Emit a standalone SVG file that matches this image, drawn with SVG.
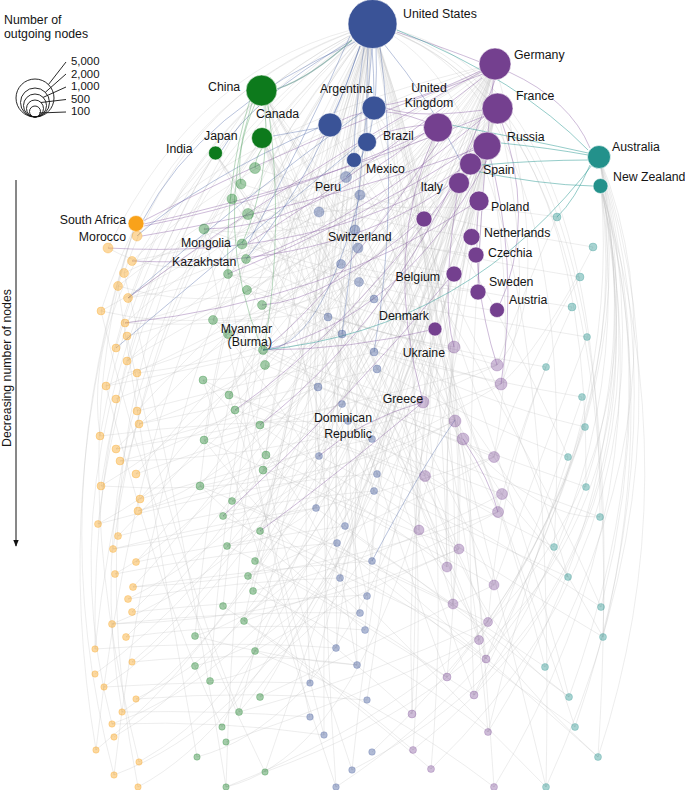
<svg xmlns="http://www.w3.org/2000/svg" width="685" height="790" viewBox="0 0 685 790">
<style>
.t{font-family:"Liberation Sans",Arial,sans-serif;font-size:12.3px;fill:#141414}
.ls{font-family:"Liberation Sans",Arial,sans-serif;font-size:11.4px;fill:#141414}
.e{fill:none;stroke:#bcbcbc;stroke-opacity:.3;stroke-width:.9}
.cp{fill:none;stroke:#7d4e9c;stroke-opacity:.38;stroke-width:1}
.cb{fill:none;stroke:#4a63a5;stroke-opacity:.38;stroke-width:1}
.cg{fill:none;stroke:#4a9a5a;stroke-opacity:.38;stroke-width:1}
.ct{fill:none;stroke:#2b9a93;stroke-opacity:.5;stroke-width:1}
.tg{fill:none;stroke:#7fa9a3;stroke-opacity:.8;stroke-width:1.2}
.B{fill:#3a5397;stroke:#fff;stroke-width:.6}
.P{fill:#74408f;stroke:#fff;stroke-width:.6}
.G{fill:#0d7a1c;stroke:#fff;stroke-width:.6}
.O{fill:#f9a21a;stroke:#fff;stroke-width:.6}
.T{fill:#23918b;stroke:#fff;stroke-width:.6}
.fb{fill:#3a5397;fill-opacity:.4;stroke:#3a5397;stroke-opacity:.25}
.fp{fill:#74408f;fill-opacity:.35;stroke:#74408f;stroke-opacity:.25}
.fg{fill:#0d7a1c;fill-opacity:.38;stroke:#0d7a1c;stroke-opacity:.25}
.fo{fill:#f9a21a;fill-opacity:.42;stroke:#f9a21a;stroke-opacity:.3}
.ft{fill:#23918b;fill-opacity:.4;stroke:#23918b;stroke-opacity:.25}
.lg{fill:none;stroke:#111;stroke-width:.9}
</style>
<defs>
<marker id="ah" viewBox="0 0 10 10" refX="9" refY="5" markerWidth="7" markerHeight="7" orient="auto"><path d="M0 1 L10 5 L0 9 z" fill="#111"/></marker>
</defs>

<g id="connectors">
<g id="grey-edges">
<path class="e" d="M372 25 Q200 60 108 248"/><path class="e" d="M372 25 Q190 80 124 273"/><path class="e" d="M372 25 Q170 90 101 311"/><path class="e" d="M372 25 Q180 110 116 348"/><path class="e" d="M372 25 Q160 120 106 386"/><path class="e" d="M372 25 Q150 140 100 436"/><path class="e" d="M372 25 Q150 160 101 486"/><path class="e" d="M372 25 Q140 180 98 524"/><path class="e" d="M372 25 Q160 200 113 549"/><path class="e" d="M372 25 Q140 230 95 649"/><path class="e" d="M372 25 Q150 260 96 750"/><path class="e" d="M372 25 Q170 280 114 775"/>
<path class="e" d="M372 25 Q260 120 204 229"/><path class="e" d="M372 25 Q250 150 213 320"/><path class="e" d="M372 25 Q240 180 204 440"/><path class="e" d="M372 25 Q230 200 200 486"/><path class="e" d="M372 25 Q230 250 195 636"/><path class="e" d="M372 25 Q240 260 210 681"/><path class="e" d="M372 25 Q240 280 226 787"/><path class="e" d="M372 25 Q260 230 223 606"/>
<path class="e" d="M372 25 Q300 200 319 456"/><path class="e" d="M372 25 Q290 240 310 683"/><path class="e" d="M372 25 Q300 260 336 787"/><path class="e" d="M372 25 Q310 220 316 508"/><path class="e" d="M372 25 Q330 200 337 648"/>
<path class="e" d="M372 25 Q430 250 412 714"/><path class="e" d="M372 25 Q440 230 447 567"/><path class="e" d="M372 25 Q460 260 494 787"/><path class="e" d="M372 25 Q410 200 419 530"/>
<path class="e" d="M372 25 Q600 60 600 517"/><path class="e" d="M372 25 Q620 80 603 637"/><path class="e" d="M372 25 Q640 100 598 757"/><path class="e" d="M372 25 Q580 80 554 547"/><path class="e" d="M372 25 Q560 100 546 787"/><path class="e" d="M372 25 Q590 90 586 487"/>
<path class="e" d="M495 64 Q250 120 137 236"/><path class="e" d="M495 64 Q260 140 132 261"/><path class="e" d="M495 64 Q250 180 118 286"/><path class="e" d="M495 64 Q260 200 128 298"/><path class="e" d="M495 64 Q240 220 125 323"/><path class="e" d="M495 64 Q250 250 127 361"/><path class="e" d="M495 64 Q260 280 137 411"/><path class="e" d="M495 64 Q260 300 116 449"/><path class="e" d="M495 64 Q270 320 136 474"/><path class="e" d="M495 64 Q260 350 140 499"/><path class="e" d="M495 64 Q270 380 118 536"/><path class="e" d="M495 64 Q280 400 136 562"/><path class="e" d="M495 64 Q280 430 133 587"/><path class="e" d="M495 64 Q290 460 132 612"/><path class="e" d="M495 64 Q290 480 126 637"/><path class="e" d="M495 64 Q300 520 132 662"/><path class="e" d="M495 64 Q300 560 104 687"/><path class="e" d="M495 64 Q310 590 122 712"/><path class="e" d="M495 64 Q320 620 114 737"/><path class="e" d="M495 64 Q330 660 139 762"/><path class="e" d="M495 64 Q340 680 138 787"/>
<path class="e" d="M497 108 Q280 200 124 273"/><path class="e" d="M497 108 Q280 250 128 298"/><path class="e" d="M497 108 Q290 300 127 336"/><path class="e" d="M497 108 Q300 330 127 373"/><path class="e" d="M497 108 Q300 380 139 424"/><path class="e" d="M497 108 Q310 420 120 461"/><path class="e" d="M497 108 Q320 450 138 511"/><path class="e" d="M497 108 Q330 500 128 599"/><path class="e" d="M497 108 Q340 540 112 624"/><path class="e" d="M497 108 Q350 600 136 699"/><path class="e" d="M497 108 Q360 640 112 724"/><path class="e" d="M497 108 Q370 680 114 775"/>
<path class="e" d="M438 127 Q260 220 101 311"/><path class="e" d="M438 127 Q270 300 125 323"/><path class="e" d="M438 127 Q280 340 116 399"/><path class="e" d="M438 127 Q280 380 101 486"/><path class="e" d="M438 127 Q290 420 98 524"/><path class="e" d="M438 127 Q300 470 115 574"/><path class="e" d="M438 127 Q310 520 95 674"/><path class="e" d="M438 127 Q320 570 96 750"/>
<path class="e" d="M487 145 Q330 250 204 229"/><path class="e" d="M487 145 Q320 300 228 274"/><path class="e" d="M487 145 Q330 330 213 320"/><path class="e" d="M487 145 Q340 380 203 380"/><path class="e" d="M487 145 Q350 420 204 440"/><path class="e" d="M487 145 Q360 460 200 486"/><path class="e" d="M487 145 Q370 500 223 516"/><path class="e" d="M487 145 Q380 540 227 546"/><path class="e" d="M487 145 Q390 580 195 636"/><path class="e" d="M487 145 Q400 620 195 666"/><path class="e" d="M487 145 Q400 660 209 681"/><path class="e" d="M487 145 Q410 700 197 757"/><path class="e" d="M487 145 Q420 740 226 787"/>
<path class="e" d="M470 164 Q350 280 229 395"/><path class="e" d="M470 164 Q360 340 235 410"/><path class="e" d="M470 164 Q370 380 232 501"/><path class="e" d="M459 182 Q350 320 260 425"/><path class="e" d="M459 182 Q360 380 255 561"/><path class="e" d="M459 182 Q370 440 248 576"/><path class="e" d="M459 182 Q380 480 244 621"/><path class="e" d="M470 164 Q380 500 260 697"/><path class="e" d="M459 182 Q390 540 239 712"/><path class="e" d="M479 200 Q390 400 265 772"/><path class="e" d="M479 200 Q380 360 222 727"/>
<path class="e" d="M261 90 Q420 300 455 420"/><path class="e" d="M261 90 Q400 300 463 439"/><path class="e" d="M261 90 Q420 350 494 457"/><path class="e" d="M261 90 Q380 380 425 476"/><path class="e" d="M261 90 Q440 400 502 494"/><path class="e" d="M262 138 Q420 350 498 512"/><path class="e" d="M262 138 Q400 400 459 549"/><path class="e" d="M262 138 Q400 420 447 567"/><path class="e" d="M262 138 Q440 460 494 585"/><path class="e" d="M262 138 Q420 480 453 604"/><path class="e" d="M215 153 Q400 400 488 622"/><path class="e" d="M215 153 Q400 430 479 640"/><path class="e" d="M215 153 Q430 470 486 659"/><path class="e" d="M261 90 Q380 500 447 677"/><path class="e" d="M262 138 Q420 540 474 695"/>
<path class="e" d="M329 125 Q450 300 488 732"/><path class="e" d="M329 125 Q440 400 413 750"/><path class="e" d="M373 107 Q460 450 431 769"/><path class="e" d="M373 107 Q500 300 568 457"/><path class="e" d="M367 142 Q520 400 568 577"/><path class="e" d="M353 160 Q520 420 601 607"/><path class="e" d="M329 125 Q480 400 545 667"/><path class="e" d="M373 107 Q520 500 569 697"/><path class="e" d="M367 142 Q500 500 575 727"/>
<path class="e" d="M599 156 Q700 450 546 787"/><path class="e" d="M601 186 Q690 480 598 757"/><path class="e" d="M599 156 Q680 420 575 727"/><path class="e" d="M601 186 Q670 420 569 697"/><path class="e" d="M599 156 Q690 380 545 667"/><path class="e" d="M601 186 Q660 400 603 637"/><path class="e" d="M599 156 Q660 380 601 607"/><path class="e" d="M601 186 Q670 500 494 787"/><path class="e" d="M599 156 Q690 520 431 769"/><path class="e" d="M601 186 Q680 540 413 750"/><path class="e" d="M599 156 Q660 460 488 732"/><path class="e" d="M601 186 Q640 460 474 695"/><path class="e" d="M599 156 Q650 420 447 677"/><path class="e" d="M601 186 Q620 420 486 659"/><path class="e" d="M599 156 Q640 400 479 640"/><path class="e" d="M601 186 Q640 500 372 752"/><path class="e" d="M599 156 Q680 560 336 787"/><path class="e" d="M601 186 Q680 600 352 770"/><path class="e" d="M599 156 Q700 600 226 787"/><path class="e" d="M601 186 Q690 620 265 772"/>
<path class="e" d="M136 223 Q40 500 114 775"/><path class="e" d="M136 223 Q50 480 96 750"/><path class="e" d="M136 223 Q60 450 139 762"/><path class="e" d="M261 90 Q60 400 138 787"/><path class="e" d="M215 153 Q40 450 112 724"/><path class="e" d="M262 138 Q70 420 122 712"/><path class="e" d="M261 90 Q90 300 95 649"/><path class="e" d="M215 153 Q80 300 100 436"/>
<path class="e" d="M108 248 Q200 300 319 212"/><path class="e" d="M132 261 Q250 240 360 195"/><path class="e" d="M118 286 Q230 320 341 264"/><path class="e" d="M101 311 Q220 340 359 282"/><path class="e" d="M125 323 Q250 330 374 299"/><path class="e" d="M128 298 Q250 280 355 230"/><path class="e" d="M137 373 Q250 360 328 317"/><path class="e" d="M106 386 Q240 360 342 334"/><path class="e" d="M137 411 Q260 380 374 352"/><path class="e" d="M139 424 Q260 400 377 369"/><path class="e" d="M116 449 Q240 420 318 387"/><path class="e" d="M136 474 Q260 430 342 404"/><path class="e" d="M100 436 Q220 420 348 421"/><path class="e" d="M140 499 Q270 460 372 439"/><path class="e" d="M138 511 Q250 480 319 456"/><path class="e" d="M98 524 Q260 480 377 474"/><path class="e" d="M118 536 Q260 500 374 491"/><path class="e" d="M113 549 Q230 520 316 508"/><path class="e" d="M136 562 Q240 540 345 526"/><path class="e" d="M115 574 Q240 550 337 543"/><path class="e" d="M133 587 Q250 570 372 561"/><path class="e" d="M128 599 Q240 580 340 578"/><path class="e" d="M132 612 Q250 600 367 595"/><path class="e" d="M112 624 Q240 610 360 613"/><path class="e" d="M126 637 Q250 620 365 630"/><path class="e" d="M95 649 Q230 640 336 648"/><path class="e" d="M132 662 Q250 650 357 665"/><path class="e" d="M104 687 Q220 680 310 683"/><path class="e" d="M136 699 Q250 690 367 700"/><path class="e" d="M122 712 Q220 710 310 717"/><path class="e" d="M112 724 Q220 720 324 735"/>
<path class="e" d="M255 168 Q350 200 424 218"/><path class="e" d="M241 184 Q350 220 471 237"/><path class="e" d="M232 199 Q350 240 476 255"/><path class="e" d="M248 214 Q350 260 454 273"/><path class="e" d="M204 229 Q340 280 478 292"/><path class="e" d="M242 244 Q360 290 497 311"/><path class="e" d="M246 259 Q340 310 435 329"/><path class="e" d="M228 274 Q340 330 454 347"/><path class="e" d="M247 290 Q370 330 497 365"/><path class="e" d="M262 305 Q380 350 501 384"/><path class="e" d="M213 320 Q320 380 423 402"/><path class="e" d="M228 334 Q340 400 455 420"/><path class="e" d="M263 350 Q360 400 463 439"/><path class="e" d="M265 365 Q380 410 494 457"/><path class="e" d="M203 380 Q320 440 425 476"/><path class="e" d="M229 395 Q360 440 502 494"/><path class="e" d="M235 410 Q360 450 498 512"/><path class="e" d="M260 425 Q340 480 419 530"/><path class="e" d="M204 440 Q330 500 459 549"/><path class="e" d="M266 455 Q360 500 447 567"/><path class="e" d="M263 470 Q380 520 494 585"/><path class="e" d="M200 486 Q330 540 453 604"/><path class="e" d="M232 501 Q360 560 488 622"/><path class="e" d="M223 516 Q350 580 479 640"/><path class="e" d="M260 531 Q380 580 486 659"/><path class="e" d="M227 546 Q340 600 447 677"/><path class="e" d="M255 561 Q360 620 474 695"/><path class="e" d="M248 576 Q330 640 412 714"/><path class="e" d="M253 591 Q380 650 488 732"/><path class="e" d="M223 606 Q320 670 413 750"/><path class="e" d="M244 621 Q340 690 431 769"/><path class="e" d="M255 651 Q380 700 494 787"/>
<path class="e" d="M319 212 Q450 200 557 217"/><path class="e" d="M360 195 Q480 230 593 247"/><path class="e" d="M355 230 Q470 260 580 277"/><path class="e" d="M341 264 Q460 290 572 307"/><path class="e" d="M374 299 Q480 320 587 337"/><path class="e" d="M328 317 Q440 350 546 367"/><path class="e" d="M374 352 Q480 380 582 397"/><path class="e" d="M342 334 Q470 400 585 427"/><path class="e" d="M377 369 Q470 420 568 457"/><path class="e" d="M318 387 Q450 440 586 487"/><path class="e" d="M348 421 Q470 470 600 517"/><path class="e" d="M372 439 Q460 500 554 547"/><path class="e" d="M319 456 Q440 520 568 577"/><path class="e" d="M377 474 Q500 540 601 607"/><path class="e" d="M374 491 Q490 570 603 637"/><path class="e" d="M316 508 Q430 590 545 667"/><path class="e" d="M345 526 Q460 610 569 697"/><path class="e" d="M337 543 Q450 640 575 727"/><path class="e" d="M372 561 Q490 660 598 757"/><path class="e" d="M340 578 Q440 680 546 787"/>
<path class="e" d="M203 380 Q260 560 336 787"/><path class="e" d="M228 274 Q260 500 352 770"/><path class="e" d="M204 229 Q250 450 310 717"/><path class="e" d="M229 395 Q280 560 324 735"/><path class="e" d="M455 420 Q500 600 546 787"/><path class="e" d="M425 476 Q480 640 569 697"/><path class="e" d="M419 530 Q480 650 598 757"/><path class="e" d="M494 457 Q560 560 603 637"/><path class="e" d="M502 494 Q560 560 568 577"/><path class="e" d="M463 439 Q540 520 600 517"/>
<path class="e" d="M124 273 Q180 500 226 787"/><path class="e" d="M101 311 Q160 560 265 772"/><path class="e" d="M118 286 Q150 500 197 757"/><path class="e" d="M127 336 Q170 540 239 712"/><path class="e" d="M106 386 Q160 600 222 727"/>
<path class="e" d="M495 64 Q400 200 359 282"/><path class="e" d="M495 64 Q420 250 374 352"/><path class="e" d="M497 108 Q400 250 318 387"/><path class="e" d="M438 127 Q380 300 342 404"/><path class="e" d="M487 145 Q400 300 372 439"/><path class="e" d="M495 64 Q560 300 497 365"/><path class="e" d="M497 108 Q540 300 501 384"/><path class="e" d="M487 145 Q520 320 494 457"/>
<path class="e" d="M372 25 Q330 120 319 212"/><path class="e" d="M372 25 Q340 150 341 264"/><path class="e" d="M372 25 Q350 200 328 317"/><path class="e" d="M372 25 Q360 250 318 387"/><path class="e" d="M372 25 Q350 300 345 526"/><path class="e" d="M372 25 Q330 350 360 613"/><path class="e" d="M372 25 Q350 400 357 665"/><path class="e" d="M372 25 Q320 420 324 735"/><path class="e" d="M372 25 Q300 200 262 305"/><path class="e" d="M372 25 Q300 250 247 290"/><path class="e" d="M372 25 Q290 300 229 395"/><path class="e" d="M372 25 Q280 320 266 455"/><path class="e" d="M372 25 Q300 380 255 561"/><path class="e" d="M372 25 Q300 420 253 591"/><path class="e" d="M372 25 Q280 460 244 621"/><path class="e" d="M372 25 Q300 480 239 712"/>
<path class="e" d="M372 25 Q420 200 455 420"/><path class="e" d="M372 25 Q450 250 425 476"/><path class="e" d="M372 25 Q470 300 459 549"/><path class="e" d="M372 25 Q480 350 453 604"/><path class="e" d="M372 25 Q460 380 486 659"/><path class="e" d="M372 25 Q480 400 447 677"/>
<path class="e" d="M495 64 Q420 300 419 530"/><path class="e" d="M495 64 Q440 350 447 567"/><path class="e" d="M497 108 Q430 350 453 604"/><path class="e" d="M495 64 Q460 400 474 695"/><path class="e" d="M497 108 Q400 400 412 714"/><path class="e" d="M495 64 Q380 400 372 561"/><path class="e" d="M497 108 Q380 450 340 578"/><path class="e" d="M438 127 Q380 400 365 630"/><path class="e" d="M438 127 Q360 450 336 648"/><path class="e" d="M487 145 Q400 450 367 700"/><path class="e" d="M470 164 Q380 480 352 770"/><path class="e" d="M459 182 Q360 500 310 683"/>
<path class="e" d="M329 125 Q300 250 263 470"/><path class="e" d="M329 125 Q320 300 260 531"/><path class="e" d="M373 107 Q350 300 316 508"/><path class="e" d="M367 142 Q330 350 337 543"/><path class="e" d="M353 160 Q320 300 319 456"/><path class="e" d="M329 125 Q280 200 213 320"/>
<path class="e" d="M261 90 Q330 200 374 299"/><path class="e" d="M261 90 Q320 250 377 369"/><path class="e" d="M262 138 Q320 300 374 491"/><path class="e" d="M262 138 Q330 350 372 561"/><path class="e" d="M215 153 Q300 300 367 596"/><path class="e" d="M261 90 Q300 350 357 665"/>
<path class="e" d="M497 365 Q380 420 263 470"/><path class="e" d="M501 384 Q380 460 232 501"/><path class="e" d="M455 420 Q350 480 227 546"/><path class="e" d="M494 457 Q380 520 248 576"/><path class="e" d="M502 494 Q380 560 253 591"/><path class="e" d="M498 512 Q370 580 244 621"/><path class="e" d="M459 549 Q340 600 255 651"/><path class="e" d="M494 585 Q380 640 260 697"/><path class="e" d="M488 622 Q360 680 239 712"/><path class="e" d="M479 640 Q350 700 226 742"/>
<path class="e" d="M497 365 Q300 420 116 449"/><path class="e" d="M501 384 Q300 460 120 461"/><path class="e" d="M455 421 Q300 500 101 486"/><path class="e" d="M494 457 Q300 520 113 549"/><path class="e" d="M498 512 Q300 580 133 587"/><path class="e" d="M459 549 Q300 620 112 624"/>
<path class="e" d="M355 230 Q230 300 127 361"/><path class="e" d="M341 264 Q230 330 106 386"/>
<path class="e" d="M557 217 Q520 300 497 365"/><path class="e" d="M593 247 Q540 350 501 384"/><path class="e" d="M580 277 Q520 380 494 457"/><path class="e" d="M572 307 Q520 420 498 512"/><path class="e" d="M587 337 Q540 460 494 585"/><path class="e" d="M546 367 Q500 480 488 622"/><path class="e" d="M582 397 Q540 520 486 659"/><path class="e" d="M585 427 Q540 560 474 695"/><path class="e" d="M568 457 Q520 600 488 732"/>
<path class="e" d="M204 229 Q300 350 374 491"/><path class="e" d="M232 199 Q300 300 377 474"/><path class="e" d="M213 320 Q300 420 345 526"/><path class="e" d="M203 380 Q300 480 340 578"/><path class="e" d="M204 440 Q280 540 360 613"/><path class="e" d="M200 486 Q280 560 365 630"/><path class="e" d="M195 636 Q280 660 357 665"/>
</g>
<g id="colored-edges">
<path class="cp" d="M397 32 Q450 50 480 62"/><path class="cp" d="M509 72 Q570 100 590 148"/><path class="cp" d="M483 74 Q300 140 143 221"/><path class="cp" d="M485 116 Q300 190 144 224"/><path class="cp" d="M425 133 Q280 200 144 226"/><path class="cp" d="M474 150 Q300 210 142 236"/><path class="cp" d="M482 78 Q350 180 248 243"/><path class="cp" d="M484 117 Q360 220 251 259"/><path class="cp" d="M473 148 Q360 220 228 274"/><path class="cp" d="M424 133 Q300 230 204 229"/><path class="cp" d="M460 170 Q320 260 108 248"/><path class="cp" d="M448 186 Q330 270 132 261"/><path class="cp" d="M470 206 Q330 300 125 323"/><path class="cp" d="M440 140 Q330 300 263 350"/><path class="cp" d="M487 160 Q400 320 263 350"/><path class="cp" d="M495 80 Q420 300 260 425"/><path class="cp" d="M423 402 Q360 420 319 456"/><path class="cp" d="M423 402 Q330 480 260 531"/><path class="cp" d="M463 439 Q490 480 498 512"/><path class="cp" d="M482 70 Q420 100 385 105"/><path class="cp" d="M424 125 Q380 130 376 140"/><path class="cp" d="M438 127 Q380 100 342 120"/><path class="cp" d="M497 108 Q420 120 386 108"/><path class="cp" d="M479 200 Q470 280 497 365"/><path class="cp" d="M459 182 Q440 300 454 347"/><path class="cp" d="M487 145 Q520 260 501 384"/><path class="cp" d="M495 64 Q480 200 478 292"/><path class="cp" d="M497 108 Q540 220 497 311"/><path class="cp" d="M470 164 Q350 330 235 410"/><path class="cp" d="M454 273 Q350 400 223 516"/><path class="cp" d="M435 329 Q350 350 263 350"/><path class="cp" d="M424 218 Q330 300 262 305"/><path class="cp" d="M495 64 Q300 170 128 298"/><path class="cp" d="M438 127 Q380 250 423 402"/>
<path class="cb" d="M360 46 Q345 90 334 113"/><path class="cb" d="M372 48 Q374 75 374 96"/><path class="cb" d="M368 48 Q366 100 367 133"/><path class="cb" d="M364 47 Q355 110 354 153"/><path class="cb" d="M355 42 Q200 110 143 220"/><path class="cb" d="M352 40 Q250 100 222 150"/><path class="cb" d="M318 128 Q295 132 273 136"/><path class="cb" d="M350 36 Q300 150 248 243"/><path class="cb" d="M360 46 Q320 170 246 259"/><path class="cb" d="M318 128 Q200 180 137 236"/><path class="cb" d="M362 112 Q240 200 128 298"/><path class="cb" d="M357 146 Q220 260 116 348"/><path class="cb" d="M372 48 Q360 200 342 334"/><path class="cb" d="M380 46 Q400 200 374 352"/><path class="cb" d="M360 195 Q320 350 263 350"/><path class="cb" d="M372 561 Q420 470 455 420"/><path class="cb" d="M376 46 Q380 150 346 177"/><path class="cb" d="M384 44 Q430 100 460 160"/>
<path class="cg" d="M252 103 Q212 230 262 349"/><path class="cg" d="M268 105 Q285 230 264 349"/><path class="cg" d="M255 104 Q235 150 241 184"/><path class="cg" d="M262 148 Q255 160 255 168"/><path class="cg" d="M250 100 Q225 180 228 274"/><path class="cg" d="M265 106 Q270 180 242 244"/>
<path class="tg" d="M352 40 Q310 78 277 89"/>
<path class="ct" d="M397 30 Q520 80 588 150"/><path class="ct" d="M451 125 Q530 140 588 153"/><path class="ct" d="M501 143 Q550 148 588 155"/><path class="ct" d="M481 165 Q540 160 589 160"/><path class="ct" d="M599 156 Q470 330 263 350"/><path class="ct" d="M470 170 Q540 185 593 186"/><path class="ct" d="M590 165 Q575 200 557 217"/>
</g>
</g>

<g id="legend">
<text class="t" x="4" y="24">Number of</text>
<text class="t" x="4" y="38">outgoing nodes</text>
<circle class="lg" cx="35" cy="98" r="19"/>
<circle class="lg" cx="35" cy="102.5" r="14.5"/>
<circle class="lg" cx="35" cy="105.5" r="11.5"/>
<circle class="lg" cx="35" cy="108.5" r="8.5"/>
<circle class="lg" cx="35" cy="111.5" r="5.5"/>
<line class="lg" x1="48.4" y1="84.6" x2="66" y2="62"/>
<line class="lg" x1="45.3" y1="92.3" x2="66" y2="74"/>
<line class="lg" x1="43.1" y1="97.4" x2="66" y2="87"/>
<line class="lg" x1="41" y1="102.5" x2="66" y2="99.5"/>
<line class="lg" x1="39" y1="113" x2="66" y2="112"/>
<text class="ls" x="71" y="65">5,000</text>
<text class="ls" x="71" y="77.5">2,000</text>
<text class="ls" x="71" y="90">1,000</text>
<text class="ls" x="71" y="102.5">500</text>
<text class="ls" x="71" y="115">100</text>
</g>

<g id="axis">
<line x1="16" y1="180" x2="16" y2="546" stroke="#111" stroke-width="1" marker-end="url(#ah)"/>
<text class="t" transform="translate(11 447) rotate(-90)">Decreasing number of nodes</text>
</g>

<g id="nodes">
<g id="orange-faded">
<g id="o1"><circle class="fo" cx="108" cy="248" r="5"/></g><g id="o2"><circle class="fo" cx="132" cy="261" r="4.5"/></g><g id="o3"><circle class="fo" cx="124" cy="273" r="4.5"/></g><g id="o4"><circle class="fo" cx="118" cy="286" r="4.5"/></g><g id="o5"><circle class="fo" cx="128" cy="298" r="4.5"/></g><g id="o6"><circle class="fo" cx="101" cy="311" r="4"/></g><g id="o7"><circle class="fo" cx="125" cy="323" r="4"/></g><g id="o8"><circle class="fo" cx="127" cy="336" r="4"/></g><g id="o9"><circle class="fo" cx="116" cy="348" r="4"/></g><g id="o10"><circle class="fo" cx="127" cy="361" r="4"/></g><g id="o11"><circle class="fo" cx="137" cy="373" r="4"/></g><g id="o12"><circle class="fo" cx="106" cy="386" r="4"/></g><g id="o13"><circle class="fo" cx="116" cy="399" r="4"/></g><g id="o14"><circle class="fo" cx="137" cy="411" r="4"/></g><g id="o15"><circle class="fo" cx="139" cy="424" r="4"/></g><g id="o16"><circle class="fo" cx="100" cy="436" r="4"/></g><g id="o17"><circle class="fo" cx="116" cy="449" r="4"/></g><g id="o18"><circle class="fo" cx="120" cy="461" r="4"/></g><g id="o19"><circle class="fo" cx="136" cy="474" r="4"/></g><g id="o20"><circle class="fo" cx="101" cy="486" r="4"/></g><g id="o21"><circle class="fo" cx="140" cy="499" r="4"/></g><g id="o22"><circle class="fo" cx="138" cy="511" r="4"/></g><g id="o23"><circle class="fo" cx="98" cy="524" r="3.5"/></g><g id="o24"><circle class="fo" cx="118" cy="536" r="3.5"/></g><g id="o25"><circle class="fo" cx="113" cy="549" r="3.5"/></g><g id="o26"><circle class="fo" cx="136" cy="562" r="3.5"/></g><g id="o27"><circle class="fo" cx="115" cy="574" r="3.5"/></g><g id="o28"><circle class="fo" cx="133" cy="587" r="3.5"/></g><g id="o29"><circle class="fo" cx="128" cy="599" r="3.5"/></g><g id="o30"><circle class="fo" cx="132" cy="612" r="3.5"/></g><g id="o31"><circle class="fo" cx="112" cy="624" r="3.5"/></g><g id="o32"><circle class="fo" cx="126" cy="637" r="3.5"/></g><g id="o33"><circle class="fo" cx="95" cy="649" r="3.2"/></g><g id="o34"><circle class="fo" cx="132" cy="662" r="3.2"/></g><g id="o35"><circle class="fo" cx="95" cy="674" r="3.2"/></g><g id="o36"><circle class="fo" cx="104" cy="687" r="3.2"/></g><g id="o37"><circle class="fo" cx="136" cy="699" r="3.2"/></g><g id="o38"><circle class="fo" cx="122" cy="712" r="3.2"/></g><g id="o39"><circle class="fo" cx="112" cy="724" r="3.2"/></g><g id="o40"><circle class="fo" cx="114" cy="737" r="3.2"/></g><g id="o41"><circle class="fo" cx="96" cy="750" r="3.2"/></g><g id="o42"><circle class="fo" cx="139" cy="762" r="3.2"/></g><g id="o43"><circle class="fo" cx="114" cy="775" r="3.2"/></g><g id="o44"><circle class="fo" cx="138" cy="787" r="3.2"/></g>
</g>
<g id="green-faded">
<g id="g1"><circle class="fg" cx="255" cy="168" r="5.5"/></g><g id="g2"><circle class="fg" cx="241" cy="184" r="5"/></g><g id="g3"><circle class="fg" cx="232" cy="199" r="5"/></g><g id="g4"><circle class="fg" cx="248" cy="214" r="5.5"/></g><g id="g5"><circle class="fg" cx="204" cy="229" r="5"/></g><g id="g8"><circle class="fg" cx="228" cy="274" r="4.5"/></g><g id="g9"><circle class="fg" cx="247" cy="290" r="4.5"/></g><g id="g10"><circle class="fg" cx="262" cy="305" r="4.5"/></g><g id="g11"><circle class="fg" cx="213" cy="320" r="4.5"/></g><g id="g12"><circle class="fg" cx="228" cy="334" r="4.5"/></g><g id="g14"><circle class="fg" cx="265" cy="365" r="4.5"/></g><g id="g15"><circle class="fg" cx="203" cy="380" r="4"/></g><g id="g16"><circle class="fg" cx="229" cy="395" r="4"/></g><g id="g17"><circle class="fg" cx="235" cy="410" r="4"/></g><g id="g18"><circle class="fg" cx="260" cy="425" r="4"/></g><g id="g19"><circle class="fg" cx="204" cy="440" r="4"/></g><g id="g20"><circle class="fg" cx="266" cy="455" r="4"/></g><g id="g21"><circle class="fg" cx="263" cy="470" r="4"/></g><g id="g22"><circle class="fg" cx="200" cy="486" r="4"/></g><g id="g23"><circle class="fg" cx="232" cy="501" r="3.5"/></g><g id="g24"><circle class="fg" cx="223" cy="516" r="3.5"/></g><g id="g25"><circle class="fg" cx="260" cy="531" r="3.5"/></g><g id="g26"><circle class="fg" cx="227" cy="546" r="3.5"/></g><g id="g27"><circle class="fg" cx="255" cy="561" r="3.5"/></g><g id="g28"><circle class="fg" cx="248" cy="576" r="3.5"/></g><g id="g29"><circle class="fg" cx="253" cy="591" r="3.5"/></g><g id="g30"><circle class="fg" cx="223" cy="606" r="3.5"/></g><g id="g31"><circle class="fg" cx="244" cy="621" r="3.5"/></g><g id="g32"><circle class="fg" cx="195" cy="636" r="3.5"/></g><g id="g33"><circle class="fg" cx="255" cy="651" r="3.5"/></g><g id="g34"><circle class="fg" cx="195" cy="666" r="3.5"/></g><g id="g35"><circle class="fg" cx="210" cy="681" r="3.5"/></g><g id="g36"><circle class="fg" cx="260" cy="697" r="3.5"/></g><g id="g37"><circle class="fg" cx="239" cy="712" r="3.5"/></g><g id="g38"><circle class="fg" cx="222" cy="727" r="3.2"/></g><g id="g39"><circle class="fg" cx="226" cy="742" r="3.2"/></g><g id="g40"><circle class="fg" cx="197" cy="757" r="3.2"/></g><g id="g41"><circle class="fg" cx="265" cy="772" r="3.2"/></g><g id="g42"><circle class="fg" cx="226" cy="787" r="3.2"/></g>
</g>
<g id="blue-faded">
<g id="b2"><circle class="fb" cx="360" cy="195" r="5"/></g><g id="b3"><circle class="fb" cx="319" cy="212" r="5"/></g><g id="b4"><circle class="fb" cx="355" cy="230" r="5"/></g><g id="b6"><circle class="fb" cx="341" cy="264" r="4.5"/></g><g id="b7"><circle class="fb" cx="359" cy="282" r="4.5"/></g><g id="b8"><circle class="fb" cx="374" cy="299" r="4"/></g><g id="b9"><circle class="fb" cx="328" cy="317" r="4"/></g><g id="b10"><circle class="fb" cx="342" cy="334" r="4"/></g><g id="b11"><circle class="fb" cx="374" cy="352" r="4"/></g><g id="b12"><circle class="fb" cx="377" cy="369" r="4"/></g><g id="b13"><circle class="fb" cx="318" cy="387" r="4"/></g><g id="b14"><circle class="fb" cx="342" cy="404" r="3.5"/></g><g id="b15"><circle class="fb" cx="348" cy="421" r="3.5"/></g><g id="b17"><circle class="fb" cx="319" cy="456" r="3.5"/></g><g id="b18"><circle class="fb" cx="377" cy="474" r="3.5"/></g><g id="b19"><circle class="fb" cx="374" cy="491" r="3.5"/></g><g id="b20"><circle class="fb" cx="316" cy="508" r="3.5"/></g><g id="b21"><circle class="fb" cx="345" cy="526" r="3.5"/></g><g id="b22"><circle class="fb" cx="337" cy="543" r="3.5"/></g><g id="b23"><circle class="fb" cx="372" cy="561" r="3.5"/></g><g id="b24"><circle class="fb" cx="340" cy="578" r="3.5"/></g><g id="b25"><circle class="fb" cx="367" cy="596" r="3.5"/></g><g id="b26"><circle class="fb" cx="360" cy="613" r="3.5"/></g><g id="b27"><circle class="fb" cx="365" cy="630" r="3.5"/></g><g id="b28"><circle class="fb" cx="336" cy="648" r="3.5"/></g><g id="b29"><circle class="fb" cx="357" cy="665" r="3.5"/></g><g id="b30"><circle class="fb" cx="310" cy="683" r="3.3"/></g><g id="b31"><circle class="fb" cx="367" cy="700" r="3.3"/></g><g id="b32"><circle class="fb" cx="310" cy="717" r="3.3"/></g><g id="b33"><circle class="fb" cx="324" cy="735" r="3.3"/></g><g id="b34"><circle class="fb" cx="372" cy="752" r="3.3"/></g><g id="b35"><circle class="fb" cx="352" cy="770" r="3.3"/></g><g id="b36"><circle class="fb" cx="336" cy="787" r="3.3"/></g>
</g>
<g id="purple-faded">
<g id="p2"><circle class="fp" cx="497" cy="365" r="6"/></g><g id="p3"><circle class="fp" cx="501" cy="384" r="6"/></g><g id="p5"><circle class="fp" cx="455" cy="421" r="6"/></g><g id="p6"><circle class="fp" cx="463" cy="439" r="6"/></g><g id="p7"><circle class="fp" cx="494" cy="457" r="5.5"/></g><g id="p8"><circle class="fp" cx="425" cy="476" r="5.5"/></g><g id="p9"><circle class="fp" cx="502" cy="494" r="5.5"/></g><g id="p10"><circle class="fp" cx="498" cy="512" r="5.5"/></g><g id="p11"><circle class="fp" cx="419" cy="530" r="5"/></g><g id="p12"><circle class="fp" cx="459" cy="549" r="5"/></g><g id="p13"><circle class="fp" cx="447" cy="567" r="5"/></g><g id="p14"><circle class="fp" cx="494" cy="585" r="5"/></g><g id="p15"><circle class="fp" cx="453" cy="604" r="5"/></g><g id="p16"><circle class="fp" cx="488" cy="622" r="4.5"/></g><g id="p17"><circle class="fp" cx="479" cy="640" r="4.5"/></g><g id="p18"><circle class="fp" cx="486" cy="659" r="4"/></g><g id="p19"><circle class="fp" cx="447" cy="677" r="4"/></g><g id="p20"><circle class="fp" cx="474" cy="695" r="4"/></g><g id="p21"><circle class="fp" cx="412" cy="714" r="4"/></g><g id="p22"><circle class="fp" cx="488" cy="732" r="3.5"/></g><g id="p23"><circle class="fp" cx="413" cy="750" r="3.5"/></g><g id="p24"><circle class="fp" cx="431" cy="769" r="3.5"/></g><g id="p25"><circle class="fp" cx="494" cy="787" r="3.5"/></g>
</g>
<g id="teal-faded">
<g id="t1"><circle class="ft" cx="557" cy="217" r="4"/></g><g id="t2"><circle class="ft" cx="593" cy="247" r="4"/></g><g id="t3"><circle class="ft" cx="580" cy="277" r="4"/></g><g id="t4"><circle class="ft" cx="572" cy="307" r="4"/></g><g id="t5"><circle class="ft" cx="587" cy="337" r="3.5"/></g><g id="t6"><circle class="ft" cx="546" cy="367" r="3.5"/></g><g id="t7"><circle class="ft" cx="582" cy="397" r="3.5"/></g><g id="t8"><circle class="ft" cx="585" cy="427" r="3.5"/></g><g id="t9"><circle class="ft" cx="568" cy="457" r="3.5"/></g><g id="t10"><circle class="ft" cx="586" cy="487" r="3.5"/></g><g id="t11"><circle class="ft" cx="600" cy="517" r="3.5"/></g><g id="t12"><circle class="ft" cx="554" cy="547" r="3.5"/></g><g id="t13"><circle class="ft" cx="568" cy="577" r="3.5"/></g><g id="t14"><circle class="ft" cx="601" cy="607" r="3.5"/></g><g id="t15"><circle class="ft" cx="603" cy="637" r="3.5"/></g><g id="t16"><circle class="ft" cx="545" cy="667" r="3.5"/></g><g id="t17"><circle class="ft" cx="569" cy="697" r="3.5"/></g><g id="t18"><circle class="ft" cx="575" cy="727" r="3.5"/></g><g id="t19"><circle class="ft" cx="598" cy="757" r="3.5"/></g><g id="t20"><circle class="ft" cx="546" cy="787" r="3.5"/></g>
</g>

<g id="united-states"><circle class="B" cx="372.5" cy="24" r="24.5"/><text class="t" x="403" y="18">United States</text></g>
<g id="argentina"><circle class="B" cx="374" cy="108" r="12"/><text class="t" x="320" y="93">Argentina</text></g>
<g id="canada"><circle class="B" cx="330" cy="125" r="12"/><text class="t" x="256" y="118">Canada</text></g>
<g id="brazil"><circle class="B" cx="367" cy="142" r="9.5"/><text class="t" x="383" y="140">Brazil</text></g>
<g id="mexico"><circle class="B" cx="354" cy="160" r="7.5"/><text class="t" x="366" y="173">Mexico</text></g>
<g id="peru"><circle class="fb" cx="346" cy="177" r="5.5"/><text class="t" x="315" y="191">Peru</text></g>
<g id="switzerland"><circle class="fb" cx="358" cy="248" r="5"/><text class="t" x="328" y="241">Switzerland</text></g>
<g id="dominican-republic"><circle class="fb" cx="372" cy="439" r="3.5"/><text class="t" x="372" y="422" text-anchor="end">Dominican</text><text class="t" x="372" y="438" text-anchor="end">Republic</text></g>

<g id="germany"><circle class="P" cx="495" cy="64" r="16"/><text class="t" x="514" y="59">Germany</text></g>
<g id="france"><circle class="P" cx="497.5" cy="108.5" r="15.5"/><text class="t" x="516" y="100">France</text></g>
<g id="united-kingdom"><circle class="P" cx="438" cy="127.5" r="14.5"/><text class="t" x="429" y="92" text-anchor="middle">United</text><text class="t" x="429" y="107" text-anchor="middle">Kingdom</text></g>
<g id="russia"><circle class="P" cx="487" cy="146" r="14"/><text class="t" x="507" y="141">Russia</text></g>
<g id="spain"><circle class="P" cx="470.5" cy="164" r="11"/><text class="t" x="483" y="174">Spain</text></g>
<g id="italy"><circle class="P" cx="459" cy="183" r="10.5"/><text class="t" x="443" y="191" text-anchor="end">Italy</text></g>
<g id="poland"><circle class="P" cx="479" cy="201" r="10"/><text class="t" x="491" y="211">Poland</text></g>
<g id="purple-unlabelled"><circle class="P" cx="424" cy="219" r="8"/></g>
<g id="netherlands"><circle class="P" cx="471.5" cy="237" r="8.5"/><text class="t" x="484" y="237">Netherlands</text></g>
<g id="czechia"><circle class="P" cx="476" cy="255" r="8"/><text class="t" x="488" y="257">Czechia</text></g>
<g id="belgium"><circle class="P" cx="454" cy="274" r="8"/><text class="t" x="440" y="281" text-anchor="end">Belgium</text></g>
<g id="sweden"><circle class="P" cx="478" cy="292" r="8"/><text class="t" x="489" y="286">Sweden</text></g>
<g id="austria"><circle class="P" cx="497" cy="310" r="7.5"/><text class="t" x="509" y="304">Austria</text></g>
<g id="denmark"><circle class="P" cx="435" cy="329" r="7"/><text class="t" x="429" y="320" text-anchor="end">Denmark</text></g>
<g id="ukraine"><circle class="fp" cx="454" cy="347" r="6"/><text class="t" x="445" y="357" text-anchor="end">Ukraine</text></g>
<g id="greece"><circle class="fp" cx="423" cy="402" r="6"/><text class="t" x="423" y="403" text-anchor="end">Greece</text></g>

<g id="china"><circle class="G" cx="261.5" cy="90.5" r="15.5"/><text class="t" x="208" y="91">China</text></g>
<g id="japan"><circle class="G" cx="262" cy="138" r="10.5"/><text class="t" x="204" y="140">Japan</text></g>
<g id="india"><circle class="G" cx="215.5" cy="153" r="7"/><text class="t" x="166" y="153">India</text></g>
<g id="mongolia"><circle class="fg" cx="242" cy="244" r="5"/><text class="t" x="181" y="247">Mongolia</text></g>
<g id="kazakhstan"><circle class="fg" cx="246" cy="259" r="4.5"/><text class="t" x="172" y="266">Kazakhstan</text></g>
<g id="myanmar"><circle class="fg" cx="263" cy="350" r="4.5"/><text class="t" x="272" y="333" text-anchor="end">Myanmar</text><text class="t" x="272" y="346" text-anchor="end">(Burma)</text></g>

<g id="south-africa"><circle class="O" cx="136" cy="223.5" r="8"/><text class="t" x="126" y="224" text-anchor="end">South Africa</text></g>
<g id="morocco"><circle class="fo" cx="137" cy="236" r="5"/><text class="t" x="126" y="241" text-anchor="end">Morocco</text></g>

<g id="australia"><circle class="T" cx="599" cy="157" r="11.5"/><text class="t" x="612" y="151">Australia</text></g>
<g id="new-zealand"><circle class="T" cx="600.5" cy="186" r="7.5"/><text class="t" x="613" y="181">New Zealand</text></g>
</g>
</svg>
